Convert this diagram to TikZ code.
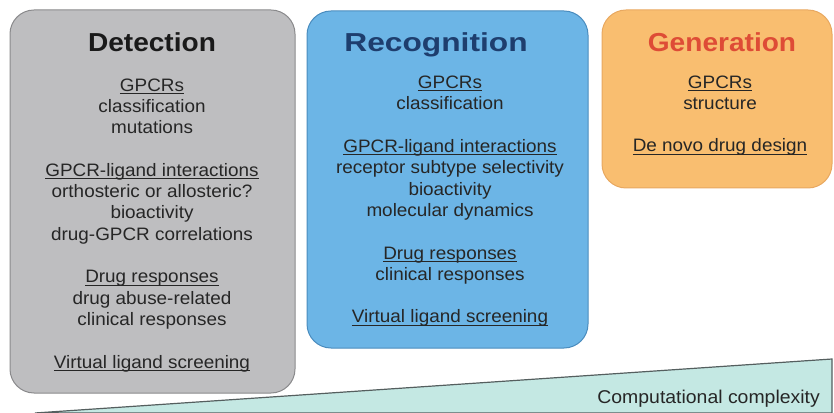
\documentclass[tikz,border=0pt]{standalone}
\usepackage{fontspec}
\setmainfont{Liberation Sans}[FakeStretch=1.05]
\newfontfamily\headfont{Liberation Sans}[FakeStretch=1.08]
\newfontfamily\headwide{Liberation Sans}[FakeStretch=1.22]

\definecolor{detfill}{RGB}{190,190,192}
\definecolor{detline}{RGB}{138,138,140}
\definecolor{recfill}{RGB}{108,181,230}
\definecolor{recline}{RGB}{74,140,190}
\definecolor{genfill}{RGB}{249,190,112}
\definecolor{genline}{RGB}{232,168,96}
\definecolor{wedgefill}{RGB}{196,232,227}
\definecolor{wedgeline}{RGB}{85,95,95}
\definecolor{dettitle}{RGB}{26,26,26}
\definecolor{rectitle}{RGB}{30,62,110}
\definecolor{gentitle}{RGB}{222,76,54}
\definecolor{bodytext}{RGB}{38,38,38}

% underline sitting just under the baseline
\newcommand{\ulbar}[1]{\setbox0\hbox{#1}\rlap{\rule[-2.8pt]{\wd0}{1pt}}\box0}

\begin{document}
\begin{tikzpicture}[x=1pt, y=1pt,
    panel/.style={rounded corners=24pt, line width=1pt},
    head/.style={anchor=base, inner sep=0pt, font=\fontsize{26}{30}\selectfont\bfseries},
    body/.style={anchor=base, inner sep=0pt, align=center, text=bodytext,
      font=\fontsize{18}{21.3}\selectfont}]
  \useasboundingbox (0,0) rectangle (834,412);

  % Complexity wedge
  \draw[fill=wedgefill, draw=wedgeline, line width=1.2pt]
    (35,-1) -- (832,53) -- (832,-1) -- cycle;
  \node[anchor=base east, inner sep=0pt, text=bodytext, font=\fontsize{18.5}{22}\selectfont]
    (cplx) at (820,9) {Computational complexity};

  % Draw the three panels
  \draw[panel, fill=detfill, draw=detline] (10,19) rectangle (295,402);
  \draw[panel, fill=recfill, draw=recline] (307,64) rectangle (588,401);
  \draw[panel, fill=genfill, draw=genline] (602,224) rectangle (832,402);

  % Titles
  \node[head, text=dettitle] (det) at (152,360) {\headfont Detection};
  \node[head, text=rectitle] (rec) at (436,360) {\headwide Recognition};
  \node[head, text=gentitle] (gen) at (722,360) {\headfont Generation};

  % Panel contents (placed by the baseline of their last line)
  \node[body] (detbody) at (152,44) {\ulbar{GPCRs}\\classification\\mutations\\[21.3pt]
    \ulbar{GPCR-ligand interactions}\\orthosteric or allosteric?\\bioactivity\\drug-GPCR correlations\\[21.3pt]
    \ulbar{Drug responses}\\drug abuse-related\\clinical responses\\[21.3pt]
    \ulbar{Virtual ligand screening}};
  \node[body] (recbody) at (450,89) {\ulbar{GPCRs}\\classification\\[21.3pt]
    \ulbar{GPCR-ligand interactions}\\receptor subtype selectivity\\bioactivity\\molecular dynamics\\[21.3pt]
    \ulbar{Drug responses}\\clinical responses\\[21.3pt]
    \ulbar{Virtual ligand screening}};
  \node[body] (genbody) at (720,260) {\ulbar{GPCRs}\\structure\\[21.3pt]
    \ulbar{De novo drug design}};
\end{tikzpicture}
\end{document}
